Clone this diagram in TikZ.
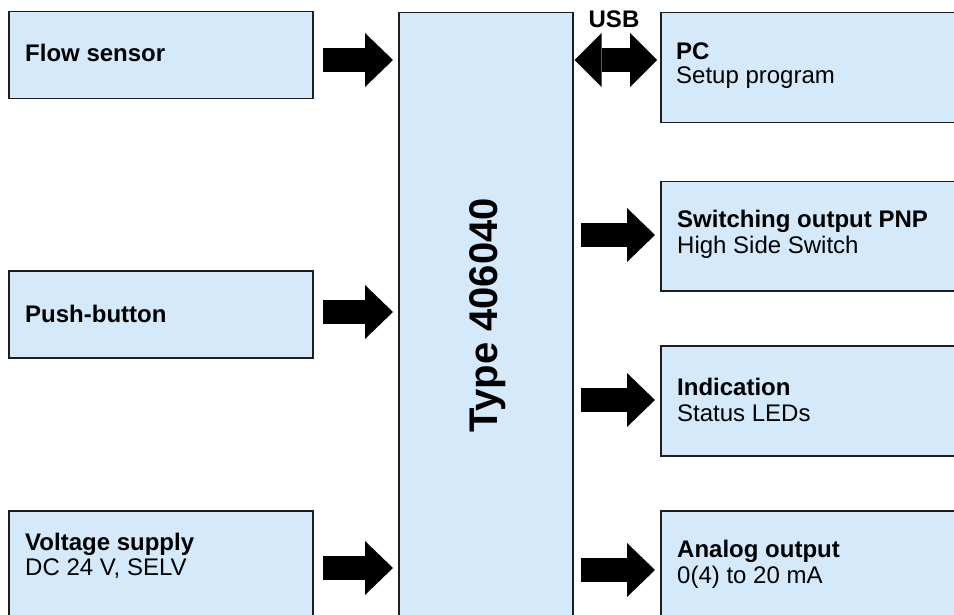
\documentclass[tikz,border=0pt]{standalone}
\usepackage{fontspec}
\setmainfont{Liberation Sans}
\usetikzlibrary{arrows.meta}
\definecolor{boxfill}{RGB}{212,234,250}
\definecolor{boxline}{RGB}{30,30,30}
\begin{document}
\begin{tikzpicture}[x=1pt,y=-1pt,
  blk/.style={draw=boxline, line width=1.5pt, fill=boxfill, inner sep=0pt, anchor=north west},
  ttl/.style={anchor=base west, inner sep=0pt, font=\bfseries\fontsize{24}{28}\selectfont},
  sub/.style={anchor=base west, inner sep=0pt, font=\fontsize{24}{28}\selectfont},
  fat/.style={line width=24pt, -{Triangle[length=28pt,width=54pt,line width=0pt]}},
  fatboth/.style={line width=24pt, {Triangle[length=27pt,width=54pt,line width=0pt]}-{Triangle[length=27pt,width=54pt,line width=0pt]}},
]
\useasboundingbox (0,0) rectangle (954,615);
\clip (0,0) rectangle (954,615);

% left boxes
\node[blk, minimum width=304pt, minimum height=87pt] (flow) at (8,11) {};
\node[blk, minimum width=304pt, minimum height=87pt] (push) at (8,270) {};
\node[blk, minimum width=304pt, minimum height=120pt] (volt) at (8,510) {};

% core
\node[blk, minimum width=174pt, minimum height=620pt] (core) at (398,12) {};
\node[anchor=base, rotate=90, inner sep=0pt, font=\bfseries\fontsize{40}{40}\selectfont] (type) at (497,315.5) {Type 406040};

% right boxes
\node[blk, minimum width=310pt, minimum height=110pt] (pc) at (660,12) {};
\node[blk, minimum width=310pt, minimum height=109pt] (sw) at (660,181) {};
\node[blk, minimum width=310pt, minimum height=110pt] (ind) at (660,345) {};
\node[blk, minimum width=310pt, minimum height=120pt] (ana) at (660,510) {};

% texts
\node[ttl] (flowt) at (25,62) {Flow sensor};
\node[ttl] (pusht) at (25,322) {Push-button};
\node[ttl] (voltt) at (25,550) {Voltage supply};
\node[sub] (volts) at (25,575) {DC 24 V, SELV};
\node[ttl] (pct) at (676,60) {PC};
\node[sub] (pcs) at (676,84) {Setup program};
\node[ttl] (swt) at (677,228) {Switching output PNP};
\node[sub] (sws) at (677,254) {High Side Switch};
\node[ttl] (indt) at (677,395) {Indication};
\node[sub] (inds) at (677,421) {Status LEDs};
\node[ttl] (anat) at (677,557) {Analog output};
\node[sub] (anas) at (677,583) {0(4) to 20 mA};
\node[anchor=base, inner sep=0pt, font=\bfseries\fontsize{24}{28}\selectfont] (usb) at (614,28) {USB};

% arrows
\draw[fat, shorten <=9pt, shorten >=5pt] (flow.east |- 0,60) -- (core.west |- 0,60);
\draw[fat, shorten <=9pt, shorten >=5pt] (push.east |- 0,312) -- (core.west |- 0,312);
\draw[fat, shorten <=9pt, shorten >=5pt] (volt.east |- 0,568) -- (core.west |- 0,568);
\draw[fatboth, shorten <=1pt, shorten >=3pt] (core.east |- 0,60) -- (pc.west |- 0,60);
\draw[fat, shorten <=7pt, shorten >=5pt] (core.east |- 0,235) -- (sw.west |- 0,235);
\draw[fat, shorten <=7pt, shorten >=5pt] (core.east |- 0,400) -- (ind.west |- 0,400);
\draw[fat, shorten <=7pt, shorten >=5pt] (core.east |- 0,570) -- (ana.west |- 0,570);
\end{tikzpicture}
\end{document}
